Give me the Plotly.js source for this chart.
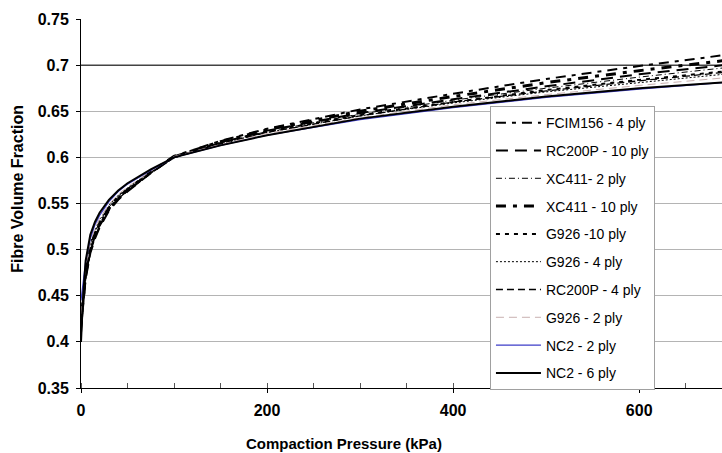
<!DOCTYPE html>
<html>
<head>
<meta charset="utf-8">
<script src="https://cdn.plot.ly/plotly-3.0.1.min.js"></script>
<style>html,body{margin:0;padding:0;background:#fff;}#chart{width:722px;height:453px;}</style>
</head>
<body>
<div id="chart"></div>
<script>
// Compaction pressure (kPa)
const pressure = [0, 2, 5, 10, 15, 20, 30, 40, 50, 75, 100, 150, 200, 300, 400, 500, 600, 700];

// Fibre volume fraction per material
const fcim156_4  = [0.415, 0.440, 0.470, 0.498, 0.514, 0.526, 0.543, 0.555, 0.564, 0.583, 0.601, 0.618, 0.631, 0.652, 0.669, 0.685, 0.699, 0.712];
const rc200p_10  = [0.410, 0.438, 0.468, 0.496, 0.512, 0.524, 0.542, 0.554, 0.563, 0.583, 0.600, 0.616, 0.629, 0.648, 0.663, 0.677, 0.690, 0.701];
const xc411_2    = [0.425, 0.448, 0.478, 0.505, 0.519, 0.530, 0.546, 0.558, 0.566, 0.584, 0.601, 0.616, 0.628, 0.647, 0.662, 0.675, 0.687, 0.698];
const xc411_10   = [0.420, 0.445, 0.475, 0.502, 0.517, 0.528, 0.545, 0.557, 0.565, 0.584, 0.601, 0.617, 0.630, 0.650, 0.666, 0.681, 0.694, 0.706];
const g926_10    = [0.418, 0.442, 0.472, 0.500, 0.515, 0.527, 0.544, 0.556, 0.565, 0.584, 0.600, 0.615, 0.628, 0.646, 0.660, 0.673, 0.684, 0.694];
const g926_4     = [0.428, 0.450, 0.480, 0.507, 0.521, 0.532, 0.548, 0.559, 0.567, 0.585, 0.601, 0.615, 0.627, 0.645, 0.659, 0.671, 0.681, 0.691];
const rc200p_4   = [0.412, 0.440, 0.470, 0.499, 0.514, 0.526, 0.543, 0.555, 0.564, 0.583, 0.600, 0.615, 0.627, 0.645, 0.660, 0.672, 0.683, 0.693];
const g926_2     = [0.430, 0.452, 0.482, 0.509, 0.523, 0.534, 0.549, 0.560, 0.568, 0.585, 0.601, 0.614, 0.626, 0.643, 0.657, 0.668, 0.678, 0.687];
const nc2_2      = [0.445, 0.460, 0.487, 0.512, 0.527, 0.537, 0.552, 0.563, 0.571, 0.586, 0.600, 0.613, 0.624, 0.641, 0.654, 0.665, 0.674, 0.682];
const nc2_6      = [0.400, 0.445, 0.488, 0.516, 0.530, 0.540, 0.554, 0.564, 0.572, 0.587, 0.600, 0.613, 0.624, 0.642, 0.655, 0.666, 0.675, 0.682];

const seriesNames = ["FCIM156 - 4 ply", "RC200P - 10 ply", "XC411- 2 ply", "XC411 - 10 ply", "G926 -10 ply",
                     "G926 - 4 ply", "RC200P - 4 ply", "G926 - 2 ply", "NC2 - 2 ply", "NC2 - 6 ply"];
const seriesValues = [fcim156_4, rc200p_10, xc411_2, xc411_10, g926_10, g926_4, rc200p_4, g926_2, nc2_2, nc2_6];
const seriesStyles = [
  {color: "#000000", width: 2,   dash: "10px,6px,4px,6px"},
  {color: "#000000", width: 2,   dash: "12px,7px"},
  {color: "#000000", width: 1,   dash: "6px,3px,1px,3px"},
  {color: "#000000", width: 3,   dash: "10px,7px,4px,7px"},
  {color: "#000000", width: 2,   dash: "4px,5px"},
  {color: "#000000", width: 1,   dash: "2px,2px"},
  {color: "#000000", width: 1.3, dash: "7px,4px"},
  {color: "#c8b0b0", width: 1,   dash: "8px,5px"},
  {color: "#3c3cc8", width: 1.2, dash: "solid"},
  {color: "#000000", width: 2,   dash: "solid"}
];

const traces = seriesNames.map((name, i) => ({
  type: "scatter",
  mode: "lines",
  name: name,
  legendgroup: "g" + i,
  x: pressure,
  y: seriesValues[i],
  line: seriesStyles[i],
  hoverinfo: "skip"
}));

const FONT = "Liberation Sans, Arial, sans-serif";

const layout = {
  width: 722,
  height: 453,
  margin: {l: 81, r: 0, t: 19, b: 65},
  paper_bgcolor: "#ffffff",
  plot_bgcolor: "#ffffff",
  font: {family: FONT, color: "#000"},
  showlegend: true,
  legend: {
    x: 0.638, y: 0.764, xanchor: "left", yanchor: "top",
    bgcolor: "#ffffff", bordercolor: "#a0a0a0", borderwidth: 1,
    font: {size: 14, family: FONT, color: "#000"},
    tracegroupgap: 6.6,
    itemwidth: 45,
    entrywidth: 129
  },
  xaxis: {
    range: [0, 689],
    dtick: 200, tick0: 0,
    showgrid: false, zeroline: false,
    showline: true, linecolor: "#000", linewidth: 1,
    ticks: "outside", ticklen: 4, tickcolor: "#000",
    ticklabelstandoff: 4,
    minor: {dtick: 50, ticks: "inside", ticklen: 5, tickcolor: "#555", showgrid: false},
    tickfont: {size: 16, family: FONT, weight: 700}
  },
  yaxis: {
    range: [0.35, 0.75],
    dtick: 0.05, tick0: 0.35,
    showgrid: true, gridcolor: "#b4b4b4", gridwidth: 1,
    zeroline: false,
    showline: true, linecolor: "#000", linewidth: 1,
    ticks: "outside", ticklen: 4, tickcolor: "#000",
    ticklabelstandoff: 4,
    tickfont: {size: 16, family: FONT, weight: 700}
  },
  annotations: [
    {text: "<b>Compaction Pressure (kPa)</b>", xref: "paper", yref: "paper",
     x: 0.41, y: 0, yshift: -55, xanchor: "center", yanchor: "middle", showarrow: false,
     font: {size: 15, family: FONT, color: "#000"}},
    {text: "<b>Fibre Volume Fraction</b>", xref: "paper", yref: "paper",
     x: 0, xshift: -63, y: 0.54, xanchor: "center", yanchor: "middle", textangle: -90, showarrow: false,
     font: {size: 16, family: FONT, color: "#000"}}
  ],
  shapes: [
    {type: "line", xref: "paper", yref: "y", x0: 0, x1: 1, y0: 0.7, y1: 0.7,
     line: {color: "#000", width: 1}, layer: "above"}
  ]
};

Plotly.newPlot("chart", traces, layout, {displayModeBar: false, staticPlot: true});
</script>
</body>
</html>
